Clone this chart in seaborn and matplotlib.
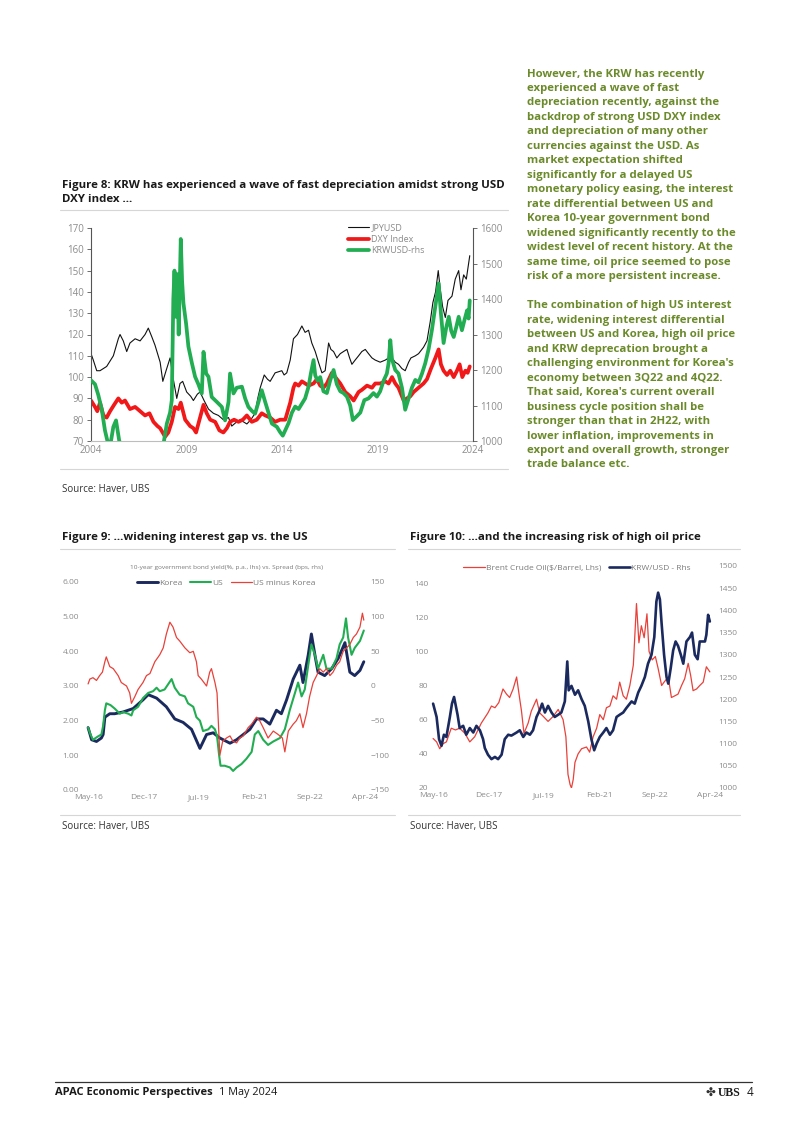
import matplotlib
matplotlib.use("Agg")
import matplotlib.pyplot as plt
import seaborn as sns
from matplotlib.lines import Line2D

# ---------------- Figure 8 data (x = year position on chart) ----------------
jpy_x = [2004.00, 2004.12, 2004.30, 2004.47, 2004.82, 2005.17, 2005.43, 2005.52, 2005.69, 2005.87,
         2006.04, 2006.31, 2006.57, 2006.83, 2007.00, 2007.18, 2007.35, 2007.62, 2007.76, 2007.93,
         2008.14, 2008.31, 2008.49, 2008.66, 2008.80, 2009.01, 2009.22, 2009.36, 2009.57, 2009.71,
         2009.92, 2010.15, 2010.41, 2010.67, 2010.93, 2011.20, 2011.37, 2011.63, 2011.81, 2011.98,
         2012.16, 2012.37, 2012.59, 2012.73, 2012.86, 2013.07, 2013.24, 2013.38, 2013.64, 2013.99,
         2014.11, 2014.25, 2014.43, 2014.60, 2014.81, 2015.04, 2015.21, 2015.39, 2015.56, 2015.74,
         2015.91, 2016.09, 2016.26, 2016.44, 2016.56, 2016.70, 2016.87, 2017.05, 2017.22, 2017.40,
         2017.54, 2017.66, 2017.83, 2018.01, 2018.18, 2018.36, 2018.53, 2018.71, 2018.88, 2019.14,
         2019.41, 2019.58, 2019.76, 2019.93, 2020.10, 2020.28, 2020.45, 2020.63, 2020.75, 2020.98,
         2021.15, 2021.41, 2021.59, 2021.76, 2021.90, 2022.04, 2022.18, 2022.29, 2022.41, 2022.55,
         2022.69, 2022.90, 2023.07, 2023.25, 2023.37, 2023.51, 2023.65, 2023.83]
jpy_y = [111, 108, 103, 103, 105, 110, 118, 120, 117, 112,
         116, 118, 117, 120, 123, 119, 115, 107, 98, 103,
         109, 99, 90, 97, 98, 93, 91, 89, 92, 93,
         89, 85, 83, 82, 80, 81, 77, 79, 80, 79,
         78, 80, 83, 90, 95, 101, 99, 98, 102, 103,
         101, 102, 108, 118, 120, 124, 121, 122, 116, 112,
         107, 102, 103, 116, 113, 112, 109, 111, 112, 113,
         109, 106, 108, 110, 112, 113, 111, 109, 108, 107,
         108, 109, 109, 107, 106, 104, 103, 107, 109, 110,
         111, 114, 117, 126, 135, 140, 150, 141, 133, 128,
         136, 138, 146, 150, 141, 148, 146, 157]

dxy_x = [2004.00, 2004.21, 2004.33, 2004.47, 2004.65, 2004.82, 2005.00, 2005.21, 2005.43, 2005.61,
         2005.78, 2006.04, 2006.31, 2006.57, 2006.83, 2007.06, 2007.27, 2007.48, 2007.62, 2007.88,
         2008.05, 2008.23, 2008.40, 2008.58, 2008.70, 2008.93, 2009.19, 2009.36, 2009.50, 2009.68,
         2009.89, 2010.06, 2010.24, 2010.50, 2010.72, 2010.93, 2011.11, 2011.28, 2011.49, 2011.72,
         2011.95, 2012.16, 2012.42, 2012.68, 2012.94, 2013.12, 2013.38, 2013.64, 2013.90, 2014.17,
         2014.43, 2014.60, 2014.69, 2014.87, 2015.04, 2015.39, 2015.65, 2015.83, 2016.00, 2016.17,
         2016.35, 2016.61, 2016.79, 2017.05, 2017.31, 2017.57, 2017.75, 2018.01, 2018.18, 2018.45,
         2018.71, 2018.88, 2019.14, 2019.41, 2019.58, 2019.76, 2019.93, 2020.10, 2020.37, 2020.54,
         2020.72, 2020.89, 2021.15, 2021.41, 2021.59, 2021.80, 2022.03, 2022.20, 2022.32, 2022.46,
         2022.64, 2022.81, 2022.99, 2023.16, 2023.30, 2023.44, 2023.60, 2023.72, 2023.83]
dxy_y = [89, 86, 84, 88, 82, 81, 84, 87, 90, 88,
         89, 85, 86, 84, 82, 83, 79, 77, 76, 72,
         74, 79, 86, 85, 88, 80, 77, 76, 74, 80,
         87, 83, 80, 79, 75, 74, 76, 79, 80, 79,
         80, 82, 79, 80, 83, 82, 81, 79, 80, 80,
         88, 95, 97, 96, 98, 96, 97, 99, 96, 95,
         97, 102, 100, 97, 93, 91, 89, 93, 94, 96,
         95, 97, 97, 98, 97, 100, 97, 95, 89, 90,
         91, 93, 95, 97, 99, 104, 109, 113, 106, 103,
         101, 103, 100, 103, 106, 100, 103, 102, 105]

krw8_x = [2004.00, 2004.21, 2004.38, 2004.56, 2004.73, 2004.86, 2005.00, 2005.17, 2005.31, 2005.48,
          2005.69, 2006.22, 2006.92, 2007.62, 2007.79, 2007.97, 2008.14, 2008.23, 2008.31, 2008.37,
          2008.44, 2008.52, 2008.59, 2008.70, 2008.77, 2008.84, 2008.98, 2009.10, 2009.28, 2009.45,
          2009.62, 2009.80, 2009.89, 2010.03, 2010.15, 2010.32, 2010.59, 2010.85, 2011.02, 2011.20,
          2011.28, 2011.46, 2011.63, 2011.90, 2012.07, 2012.24, 2012.42, 2012.59, 2012.77, 2012.94,
          2013.12, 2013.29, 2013.47, 2013.73, 2013.90, 2014.04, 2014.17, 2014.34, 2014.52, 2014.69,
          2014.87, 2015.04, 2015.21, 2015.39, 2015.51, 2015.65, 2015.74, 2015.86, 2016.00, 2016.17,
          2016.35, 2016.52, 2016.70, 2016.87, 2017.05, 2017.22, 2017.40, 2017.57, 2017.71, 2017.92,
          2018.10, 2018.31, 2018.53, 2018.79, 2018.97, 2019.14, 2019.32, 2019.49, 2019.58, 2019.67,
          2019.76, 2019.93, 2020.10, 2020.28, 2020.45, 2020.63, 2020.80, 2020.98, 2021.15, 2021.33,
          2021.50, 2021.68, 2021.85, 2022.03, 2022.20, 2022.32, 2022.46, 2022.60, 2022.73, 2022.86,
          2022.99, 2023.12, 2023.25, 2023.42, 2023.55, 2023.69, 2023.77, 2023.83]
krw8_y = [1171, 1160, 1130, 1090, 1030, 1000, 985, 1040, 1058, 1000,
          980, 950, 930, 940, 990, 1049, 1080, 1115, 1400, 1480,
          1350, 1470, 1300, 1569, 1450, 1388, 1330, 1266, 1220, 1181,
          1160, 1134, 1251, 1190, 1181, 1124, 1110, 1096, 1058, 1110,
          1190, 1134, 1150, 1153, 1120, 1096, 1085, 1077, 1110, 1143,
          1110, 1080, 1049, 1040, 1025, 1015, 1030, 1050, 1080, 1097,
          1090, 1105, 1120, 1153, 1190, 1228, 1185, 1170, 1180, 1140,
          1135, 1170, 1200, 1160, 1140, 1135, 1125, 1100, 1059, 1070,
          1080, 1115, 1120, 1135, 1125, 1140, 1170, 1190, 1219, 1284,
          1230, 1200, 1190, 1150, 1088, 1120, 1150, 1172, 1165, 1190,
          1219, 1260, 1313, 1380, 1444, 1360, 1276, 1320, 1350, 1310,
          1293, 1320, 1350, 1312, 1340, 1368, 1345, 1396]

fig8_years = [2004, 2009, 2014, 2019, 2024]

# ---------------- Figure 9 data (x = decimal year) ----------------
kor_x = [2016.33, 2016.43, 2016.57, 2016.71, 2016.76, 2016.81, 2016.95, 2017.09, 2017.33, 2017.62,
         2017.90, 2018.05, 2018.29, 2018.57, 2018.81, 2019.05, 2019.29, 2019.53, 2019.72, 2019.91,
         2020.10, 2020.39, 2020.58, 2020.77, 2020.96, 2021.15, 2021.34, 2021.53, 2021.72, 2021.86,
         2022.01, 2022.20, 2022.39, 2022.48, 2022.63, 2022.72, 2022.82, 2022.91, 2023.10, 2023.30,
         2023.49, 2023.68, 2023.82, 2023.96, 2024.11, 2024.22]
kor_y = [1.80, 1.45, 1.40, 1.50, 1.60, 2.10, 2.20, 2.20, 2.25, 2.35,
         2.60, 2.75, 2.65, 2.40, 2.05, 1.95, 1.75, 1.20, 1.60, 1.65,
         1.50, 1.35, 1.45, 1.60, 1.75, 2.05, 2.05, 1.90, 2.30, 2.20,
         2.60, 3.20, 3.60, 3.10, 3.90, 4.50, 3.90, 3.40, 3.30, 3.50,
         3.80, 4.25, 3.40, 3.30, 3.45, 3.70]

us_x = [2016.33, 2016.40, 2016.47, 2016.62, 2016.71, 2016.76, 2016.81, 2016.85, 2016.97, 2017.09,
        2017.24, 2017.33, 2017.48, 2017.57, 2017.62, 2017.76, 2017.90, 2018.05, 2018.19, 2018.29,
        2018.38, 2018.52, 2018.72, 2018.81, 2018.95, 2019.10, 2019.19, 2019.34, 2019.43, 2019.53,
        2019.62, 2019.77, 2019.86, 2019.96, 2020.02, 2020.08, 2020.12, 2020.24, 2020.39, 2020.48,
        2020.58, 2020.72, 2020.86, 2021.01, 2021.10, 2021.20, 2021.34, 2021.48, 2021.63, 2021.82,
        2021.96, 2022.10, 2022.25, 2022.34, 2022.44, 2022.53, 2022.63, 2022.72, 2022.82, 2022.91,
        2023.06, 2023.15, 2023.30, 2023.44, 2023.53, 2023.63, 2023.71, 2023.77, 2023.87, 2023.96,
        2024.11, 2024.22]
us_y = [1.80, 1.60, 1.45, 1.55, 1.60, 1.85, 2.30, 2.50, 2.45, 2.35,
        2.20, 2.25, 2.20, 2.15, 2.30, 2.40, 2.65, 2.80, 2.85, 2.95,
        2.85, 2.90, 3.20, 2.95, 2.75, 2.70, 2.50, 2.40, 2.10, 2.00,
        1.70, 1.75, 1.85, 1.75, 1.55, 1.00, 0.70, 0.70, 0.65, 0.55,
        0.65, 0.75, 0.90, 1.10, 1.60, 1.70, 1.45, 1.30, 1.40, 1.50,
        1.75, 2.30, 2.80, 3.10, 2.70, 2.90, 3.60, 4.20, 3.90, 3.50,
        3.90, 3.50, 3.50, 3.80, 4.20, 4.40, 4.95, 4.40, 3.90, 4.10,
        4.30, 4.60]

spr_x = [2016.33, 2016.38, 2016.47, 2016.57, 2016.66, 2016.74, 2016.81, 2016.85, 2016.95, 2017.05,
         2017.19, 2017.28, 2017.43, 2017.52, 2017.57, 2017.67, 2017.76, 2017.90, 2018.00, 2018.10,
         2018.24, 2018.38, 2018.48, 2018.57, 2018.67, 2018.76, 2018.86, 2018.95, 2019.10, 2019.24,
         2019.34, 2019.43, 2019.48, 2019.57, 2019.72, 2019.81, 2019.86, 2019.96, 2020.02, 2020.10,
         2020.18, 2020.29, 2020.39, 2020.48, 2020.58, 2020.67, 2020.77, 2020.91, 2021.01, 2021.15,
         2021.24, 2021.34, 2021.48, 2021.63, 2021.77, 2021.89, 2021.96, 2022.06, 2022.20, 2022.29,
         2022.39, 2022.48, 2022.58, 2022.67, 2022.77, 2022.87, 2022.96, 2023.06, 2023.15, 2023.25,
         2023.34, 2023.44, 2023.53, 2023.63, 2023.73, 2023.82, 2023.92, 2024.01, 2024.11, 2024.18,
         2024.22]
spr_y = [3, 10, 12, 8, 15, 20, 35, 42, 28, 25,
         15, 5, 0, -10, -25, -15, -5, 5, 15, 18,
         35, 45, 55, 75, 92, 85, 70, 65, 55, 48,
         50, 35, 15, 10, 0, 20, 25, 5, -10, -100,
         -80, -75, -72, -80, -82, -75, -72, -60, -55, -45,
         -50, -60, -75, -65, -70, -75, -95, -65, -55, -50,
         -40, -60, -40, -15, 5, 15, 25, 20, 25, 15,
         20, 30, 35, 50, 55, 60, 70, 75, 85, 105,
         95]

fig9_ticks = [2016.33, 2017.92, 2019.50, 2021.08, 2022.67, 2024.25]
fig9_labels = ["May-16", "Dec-17", "Jul-19", "Feb-21", "Sep-22", "Apr-24"]

# ---------------- Figure 10 data ----------------
brent_x = [2016.33, 2016.43, 2016.52, 2016.62, 2016.71, 2016.85, 2016.97, 2017.09, 2017.24, 2017.38,
           2017.52, 2017.71, 2017.90, 2018.00, 2018.10, 2018.21, 2018.33, 2018.43, 2018.52, 2018.62,
           2018.72, 2018.81, 2018.86, 2018.93, 2019.05, 2019.14, 2019.29, 2019.38, 2019.48, 2019.62,
           2019.77, 2019.91, 2020.05, 2020.13, 2020.19, 2020.25, 2020.29, 2020.34, 2020.39, 2020.48,
           2020.58, 2020.72, 2020.81, 2020.91, 2021.01, 2021.10, 2021.20, 2021.29, 2021.39, 2021.48,
           2021.58, 2021.67, 2021.77, 2021.86, 2021.96, 2022.06, 2022.15, 2022.22, 2022.29, 2022.37,
           2022.45, 2022.51, 2022.60, 2022.69, 2022.77, 2022.87, 2022.94, 2023.06, 2023.15, 2023.25,
           2023.34, 2023.44, 2023.53, 2023.63, 2023.70, 2023.77, 2023.87, 2023.96, 2024.06, 2024.15,
           2024.25]
brent_y = [49, 47, 43, 46, 47, 55, 54, 55, 52, 47,
           50, 58, 64, 68, 67, 70, 78, 75, 73, 78,
           85, 72, 65, 52, 58, 65, 72, 64, 62, 59,
           62, 66, 60, 50, 28, 22, 20, 25, 35, 40,
           43, 44, 41, 50, 55, 63, 60, 67, 68, 74,
           72, 82, 74, 72, 80, 92, 128, 105, 115, 108,
           122, 100, 95, 97, 90, 80, 82, 85, 73, 74,
           75, 80, 84, 93, 86, 77, 78, 80, 82, 91,
           88]

krw10_x = [2016.33, 2016.38, 2016.43, 2016.50, 2016.57, 2016.64, 2016.71, 2016.81, 2016.87, 2016.93,
           2017.03, 2017.09, 2017.19, 2017.28, 2017.38, 2017.48, 2017.57, 2017.67, 2017.76, 2017.81,
           2017.90, 2018.00, 2018.10, 2018.19, 2018.29, 2018.38, 2018.48, 2018.57, 2018.72, 2018.81,
           2018.91, 2019.00, 2019.10, 2019.19, 2019.29, 2019.38, 2019.45, 2019.53, 2019.62, 2019.72,
           2019.81, 2019.91, 2020.00, 2020.10, 2020.17, 2020.21, 2020.29, 2020.39, 2020.48, 2020.58,
           2020.67, 2020.77, 2020.86, 2020.94, 2021.01, 2021.10, 2021.20, 2021.29, 2021.39, 2021.48,
           2021.58, 2021.67, 2021.77, 2021.86, 2022.01, 2022.10, 2022.20, 2022.29, 2022.39, 2022.48,
           2022.58, 2022.66, 2022.72, 2022.77, 2022.82, 2022.87, 2022.94, 2023.01, 2023.06, 2023.13,
           2023.20, 2023.27, 2023.34, 2023.42, 2023.49, 2023.58, 2023.68, 2023.74, 2023.82, 2023.90,
           2023.96, 2024.04, 2024.11, 2024.15, 2024.20, 2024.25]
krw10_y = [1190, 1175, 1160, 1110, 1095, 1120, 1115, 1160, 1190, 1205,
           1165, 1135, 1140, 1120, 1135, 1125, 1140, 1130, 1110, 1090,
           1075, 1065, 1070, 1065, 1075, 1110, 1120, 1118, 1125, 1130,
           1115, 1125, 1120, 1130, 1160, 1175, 1190, 1170, 1185, 1170,
           1160, 1165, 1170, 1195, 1285, 1220, 1230, 1210, 1220, 1200,
           1185, 1150, 1110, 1085, 1100, 1115, 1125, 1135, 1120, 1130,
           1160, 1165, 1170, 1180, 1195, 1190, 1215, 1230, 1250, 1280,
           1300, 1340, 1420, 1440, 1425, 1370, 1300, 1250, 1235, 1270,
           1310, 1330, 1320, 1300, 1280, 1330, 1340, 1350, 1300, 1290,
           1330, 1330, 1330, 1345, 1390, 1375]

body_lines = [
    "However, the KRW has recently",
    "experienced a wave of fast",
    "depreciation recently, against the",
    "backdrop of strong USD DXY index",
    "and depreciation of many other",
    "currencies against the USD. As",
    "market expectation shifted",
    "significantly for a delayed US",
    "monetary policy easing, the interest",
    "rate differential between US and",
    "Korea 10-year government bond",
    "widened significantly recently to the",
    "widest level of recent history. At the",
    "same time, oil price seemed to pose",
    "risk of a more persistent increase.",
    "",
    "The combination of high US interest",
    "rate, widening interest differential",
    "between US and Korea, high oil price",
    "and KRW deprecation brought a",
    "challenging environment for Korea's",
    "economy between 3Q22 and 4Q22.",
    "That said, Korea's current overall",
    "business cycle position shall be",
    "stronger than that in 2H22, with",
    "lower inflation, improvements in",
    "export and overall growth, stronger",
    "trade balance etc.",
]

# ---------------- styling ----------------
sns.set_theme(style="white")
plt.rcParams["font.family"] = ["Open Sans", "DejaVu Sans"]

W, H = 802, 1134
fig = plt.figure(figsize=(W / 100, H / 100), dpi=100)
fig.patch.set_facecolor("white")
renderer = fig.canvas.get_renderer()

DARK = "#1a1a1a"
TICK = "#8c8c8c"
OLIVE = "#6b8a2a"
NAVY = "#1b2a5e"
GREEN = "#22ad52"
RED8 = "#f01818"
RED9 = "#e8413a"


def fx(x):
    return x / W


def fy(y):
    return 1 - y / H


def rect(l, t, r, b):
    return [l / W, 1 - b / H, (r - l) / W, (b - t) / H]


def put(x, y, s, size, width=None, **kw):
    t = fig.text(fx(x), fy(y), s, fontsize=size, va="center", **kw)
    if width is not None:
        w = t.get_window_extent(renderer=renderer).width
        t.set_fontsize(size * width / w)
    return t


def hline(x0, x1, y, color="#d6d6d6", lw=0.8):
    fig.add_artist(Line2D([fx(x0), fx(x1)], [fy(y), fy(y)], color=color, lw=lw,
                          transform=fig.transFigure))


# ---------------- right-hand text column ----------------
probe = put(528, 0, "widened significantly recently to the", 9, width=207, weight="bold", color=OLIVE)
body_size = probe.get_fontsize()
probe.remove()
for i, line in enumerate(body_lines):
    if line:
        put(527, 74 + i * 14.48, line, body_size, weight="bold", color=OLIVE)

# ---------------- Figure 8 ----------------
t8 = put(62, 186, "Figure 8: KRW has experienced a wave of fast depreciation amidst strong USD", 9.5,
         width=445, weight="bold", color=DARK)
title_size = t8.get_fontsize()
put(62, 200, "DXY index ...", title_size, weight="bold", color=DARK)
hline(60, 508, 210)
hline(60, 508, 469)
put(62, 490, "Source: Haver, UBS", 7, color="#333333")

ax8 = fig.add_axes(rect(91, 228, 473, 441))
sns.lineplot(x=jpy_x, y=jpy_y, ax=ax8, color="#111111", linewidth=0.8, label="JPYUSD", legend=False)
sns.lineplot(x=dxy_x, y=dxy_y, ax=ax8, color=RED8, linewidth=2.7, label="DXY Index", legend=False)
ax8r = ax8.twinx()
sns.lineplot(x=krw8_x, y=krw8_y, ax=ax8r, color=GREEN, linewidth=2.7, label="KRWUSD-rhs", legend=False)
ax8.set_xlim(2004, 2024)
ax8.set_ylim(70, 170)
ax8.set_yticks(range(70, 171, 10))
ax8r.set_ylim(1000, 1600)
ax8r.set_yticks(range(1000, 1601, 100))
ax8.set_xticks(fig8_years)
ax8.set_xticklabels([str(y) for y in fig8_years])
for a in (ax8, ax8r):
    a.set_xlabel("")
    a.set_ylabel("")
    a.spines["top"].set_visible(False)
ax8.spines["right"].set_visible(False)
ax8r.spines["left"].set_visible(False)
ax8r.spines["bottom"].set_visible(False)
ax8.spines["left"].set_color("#555555")
ax8r.spines["right"].set_color("#555555")
ax8.spines["bottom"].set_color("#bdbdbd")
for sp in (ax8.spines["left"], ax8r.spines["right"], ax8.spines["bottom"]):
    sp.set_linewidth(0.8)
ax8.tick_params(axis="y", direction="out", length=3, width=0.6, color="#555555",
                labelsize=7, labelcolor=TICK, pad=2, left=True)
ax8r.tick_params(axis="y", direction="out", length=3, width=0.6, color="#555555",
                 labelsize=7, labelcolor=TICK, pad=2, right=True)
ax8.tick_params(axis="x", length=0, labelsize=7, labelcolor=TICK, pad=3)
h1, l1 = ax8.get_legend_handles_labels()
h2, l2 = ax8r.get_legend_handles_labels()
ax8r.legend(h1 + h2, l1 + l2, loc="upper left", bbox_to_anchor=(fx(343), fy(219)),
            bbox_transform=fig.transFigure, frameon=False, fontsize=6.5, labelcolor="#8a8a8a",
            handlelength=2.4, handletextpad=0.25, labelspacing=0.25, borderpad=0)

# ---------------- Figure 9 ----------------
put(62, 538, "Figure 9: ...widening interest gap vs. the US", title_size, weight="bold", color=DARK)
hline(60, 395, 549)
hline(60, 395, 815)
put(62, 826, "Source: Haver, UBS", 7, color="#333333")
put(226, 567, "10-year government bond yield(%, p.a., lhs) vs. Spread (bps, rhs)", 5.5, width=192,
    ha="center", color="#7a7a7a")

ax9 = fig.add_axes(rect(86, 582, 368, 790))
sns.lineplot(x=kor_x, y=kor_y, ax=ax9, color=NAVY, linewidth=2.1, label="Korea", legend=False)
sns.lineplot(x=us_x, y=us_y, ax=ax9, color=GREEN, linewidth=1.5, label="US", legend=False)
ax9r = ax9.twinx()
sns.lineplot(x=spr_x, y=spr_y, ax=ax9r, color=RED9, linewidth=0.9, label="US minus Korea", legend=False)
ax9.set_xlim(2016.27, 2024.34)
ax9.set_ylim(0, 6)
ax9.set_yticks(range(0, 7))
ax9.set_yticklabels([f"{v:.2f}" for v in range(0, 7)])
ax9r.set_ylim(-150, 150)
ax9r.set_yticks(range(-150, 151, 50))
ax9.set_xticks(fig9_ticks)
ax9.set_xticklabels(fig9_labels)
for a in (ax9, ax9r):
    a.set_xlabel("")
    a.set_ylabel("")
    for sp in a.spines.values():
        sp.set_visible(False)
    a.tick_params(length=0, labelsize=6, labelcolor=TICK)
ax9.tick_params(axis="y", pad=5)
ax9r.tick_params(axis="y", pad=2)
ax9.tick_params(axis="x", pad=3)
h1, l1 = ax9.get_legend_handles_labels()
h2, l2 = ax9r.get_legend_handles_labels()
fig.legend(h1 + h2, l1 + l2, loc="center", bbox_to_anchor=(fx(226), fy(583)), ncol=3,
           frameon=False, fontsize=6, labelcolor="#7a7a7a", handlelength=2.6,
           handletextpad=0.1, columnspacing=0.9, borderpad=0)

# ---------------- Figure 10 ----------------
put(410, 538, "Figure 10: ...and the increasing risk of high oil price", title_size, weight="bold", color=DARK)
hline(408, 740, 549)
hline(408, 740, 815)
put(410, 826, "Source: Haver, UBS", 7, color="#333333")

ax10 = fig.add_axes(rect(431, 566, 713, 788))
sns.lineplot(x=brent_x, y=brent_y, ax=ax10, color=RED9, linewidth=0.9,
             label="Brent Crude Oil($/Barrel, Lhs)", legend=False)
ax10r = ax10.twinx()
sns.lineplot(x=krw10_x, y=krw10_y, ax=ax10r, color=NAVY, linewidth=1.9,
             label="KRW/USD - Rhs", legend=False)
ax10.set_xlim(2016.27, 2024.34)
ax10.set_ylim(20, 150)
ax10.set_yticks(range(20, 141, 20))
ax10r.set_ylim(1000, 1500)
ax10r.set_yticks(range(1000, 1501, 50))
ax10.set_xticks(fig9_ticks)
ax10.set_xticklabels(fig9_labels)
for a in (ax10, ax10r):
    a.set_xlabel("")
    a.set_ylabel("")
    for sp in a.spines.values():
        sp.set_visible(False)
    a.tick_params(length=0, labelsize=6, labelcolor=TICK)
ax10.tick_params(axis="y", pad=2)
ax10r.tick_params(axis="y", pad=4)
ax10.tick_params(axis="x", pad=3)
h1, l1 = ax10.get_legend_handles_labels()
h2, l2 = ax10r.get_legend_handles_labels()
fig.legend(h1 + h2, l1 + l2, loc="center", bbox_to_anchor=(fx(577), fy(568)), ncol=2,
           frameon=False, fontsize=6, labelcolor="#7a7a7a", handlelength=2.6,
           handletextpad=0.1, columnspacing=0.9, borderpad=0)

# ---------------- footer ----------------
hline(55, 752, 1082, color="#333333", lw=0.9)
put(55, 1093, "APAC Economic Perspectives", 8.5, width=157, weight="bold", color=DARK)
put(219, 1093, "1 May 2024", 8.5, width=58, color=DARK)
put(706, 1093, "\u2724", 8.5, color="#333333", family=["DejaVu Sans"])
put(718, 1093, "UBS", 8.5, weight="bold", color=DARK,
    family=["Liberation Serif", "DejaVu Serif"])
put(747, 1093, "4", 8.5, color=DARK)

fig.savefig("out.png", dpi=100, facecolor="white")
